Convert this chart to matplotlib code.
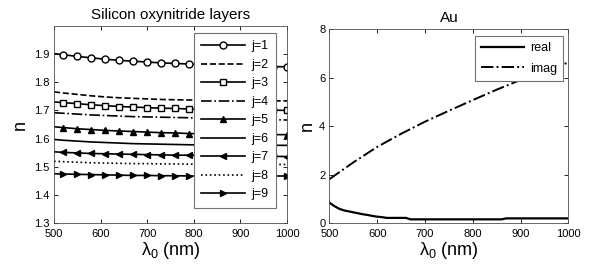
import matplotlib
matplotlib.use("Agg")
import matplotlib.pyplot as plt

plt.rcParams["font.family"] = ["Liberation Sans", "DejaVu Sans"]
plt.rcParams["mathtext.fontset"] = "custom"
plt.rcParams["mathtext.rm"] = "Liberation Sans"
plt.rcParams["mathtext.it"] = "Liberation Sans"

# silicon oxynitride layers, n vs wavelength (nm)
lam_sion = [500, 520, 550, 580, 610, 640, 670, 700, 730, 760, 790, 820, 850, 880, 910, 940, 970, 1000]
n_j1 = [1.902, 1.898, 1.892, 1.887, 1.882, 1.878, 1.875, 1.872, 1.869, 1.867, 1.865, 1.863, 1.861, 1.860, 1.858, 1.857, 1.856, 1.855]
n_j2 = [1.766, 1.762, 1.757, 1.752, 1.748, 1.745, 1.743, 1.741, 1.739, 1.738, 1.737, 1.737, 1.736, 1.736, 1.735, 1.735, 1.734, 1.734]
n_j3 = [1.730, 1.728, 1.724, 1.720, 1.717, 1.714, 1.712, 1.710, 1.708, 1.707, 1.705, 1.704, 1.703, 1.702, 1.702, 1.701, 1.701, 1.700]
n_j4 = [1.692, 1.690, 1.687, 1.684, 1.682, 1.680, 1.678, 1.677, 1.676, 1.675, 1.674, 1.672, 1.671, 1.670, 1.669, 1.668, 1.667, 1.666]
n_j5 = [1.642, 1.639, 1.635, 1.632, 1.629, 1.627, 1.625, 1.623, 1.621, 1.620, 1.618, 1.617, 1.616, 1.616, 1.615, 1.615, 1.614, 1.614]
n_j6 = [1.597, 1.594, 1.591, 1.588, 1.586, 1.584, 1.582, 1.581, 1.580, 1.579, 1.578, 1.577, 1.577, 1.576, 1.576, 1.576, 1.576, 1.576]
n_j7 = [1.553, 1.551, 1.549, 1.547, 1.546, 1.545, 1.544, 1.543, 1.542, 1.541, 1.541, 1.540, 1.539, 1.538, 1.538, 1.537, 1.537, 1.536]
n_j8 = [1.519, 1.518, 1.516, 1.514, 1.513, 1.512, 1.511, 1.511, 1.510, 1.510, 1.509, 1.509, 1.509, 1.508, 1.508, 1.508, 1.508, 1.508]
n_j9 = [1.475, 1.474, 1.473, 1.472, 1.471, 1.470, 1.469, 1.469, 1.468, 1.468, 1.467, 1.467, 1.467, 1.467, 1.467, 1.467, 1.467, 1.467]
sion_labels = ["j=1", "j=2", "j=3", "j=4", "j=5", "j=6", "j=7", "j=8", "j=9"]

# gold, real and imaginary part
lam_au_real = [500, 510, 520, 530, 540, 550, 560, 570, 580, 590, 600, 610, 620, 640, 660, 670, 700, 750, 800, 860, 870, 900, 950, 1000]
au_real = [0.84, 0.70, 0.59, 0.52, 0.48, 0.44, 0.40, 0.36, 0.33, 0.29, 0.26, 0.24, 0.21, 0.21, 0.21, 0.15, 0.15, 0.15, 0.15, 0.15, 0.19, 0.19, 0.19, 0.19]
lam_au_imag = [500, 550, 600, 650, 700, 750, 800, 850, 900, 950, 1000]
au_imag = [1.81, 2.50, 3.14, 3.68, 4.18, 4.63, 5.07, 5.50, 5.90, 6.27, 6.62]

fig = plt.figure(figsize=(5.99, 2.77), dpi=100)
ax1 = fig.add_axes([0.0902, 0.195, 0.389, 0.711])
ax2 = fig.add_axes([0.550, 0.195, 0.3987, 0.700])

styles = [
    dict(ls="-", marker="o", mfc="white"),
    dict(ls="--"),
    dict(ls="-", marker="s", mfc="white"),
    dict(ls="-."),
    dict(ls="-", marker="^", mfc="black"),
    dict(ls="-"),
    dict(ls="-", marker="<", mfc="black"),
    dict(ls=":"),
    dict(ls="-", marker=">", mfc="black"),
]
series = [n_j1, n_j2, n_j3, n_j4, n_j5, n_j6, n_j7, n_j8, n_j9]
for vals, lab, st in zip(series, sion_labels, styles):
    ax1.plot(lam_sion, vals, color="black", lw=1.2, ms=5, mec="black",
             markevery=slice(1, None), label=lab, **st)

ax1.set_xlim(500, 1000)
ax1.set_ylim(1.3, 2.0)
ax1.set_xticks([500, 600, 700, 800, 900, 1000])
ax1.set_yticks([1.3, 1.4, 1.5, 1.6, 1.7, 1.8, 1.9])
ax1.set_title("Silicon oxynitride layers", fontsize=11, pad=5)
ax1.set_xlabel(r"$\lambda_0$ (nm)", fontsize=13, labelpad=1)
ax1.set_ylabel("n", fontsize=13, labelpad=4)
leg1 = ax1.legend(loc="upper left", bbox_to_anchor=(0.60, 0.965), fontsize=9,
                  handlelength=3.5, labelspacing=0.52, borderpad=0.6,
                  handletextpad=0.5, fancybox=False, framealpha=1,
                  edgecolor="0.45", borderaxespad=0)
leg1.get_frame().set_linewidth(0.8)

ax2.plot(lam_au_real, au_real, color="black", lw=1.6, label="real")
ax2.plot(lam_au_imag, au_imag, color="black", lw=1.4, ls="-.", label="imag")
ax2.set_xlim(500, 1000)
ax2.set_ylim(0, 8)
ax2.set_xticks([500, 600, 700, 800, 900, 1000])
ax2.set_yticks([0, 2, 4, 6, 8])
ax2.set_title("Au", fontsize=11, pad=5)
ax2.set_xlabel(r"$\lambda_0$ (nm)", fontsize=13, labelpad=1)
ax2.set_ylabel("n", fontsize=13, labelpad=2)
leg2 = ax2.legend(loc="upper right", bbox_to_anchor=(0.98, 0.965), fontsize=9,
                  handlelength=3.4, labelspacing=0.7, borderpad=0.5,
                  handletextpad=0.5, fancybox=False, framealpha=1,
                  edgecolor="0.45", borderaxespad=0)
leg2.get_frame().set_linewidth(0.8)

for ax in (ax1, ax2):
    ax.tick_params(direction="in", length=3, width=0.6, labelsize=8, pad=3,
                   top=True, right=True)
    ax.tick_params(axis="x", pad=4)
    for sp in ax.spines.values():
        sp.set_linewidth(0.6)
        sp.set_color("0.3")

fig.savefig("out.png", dpi=100)
